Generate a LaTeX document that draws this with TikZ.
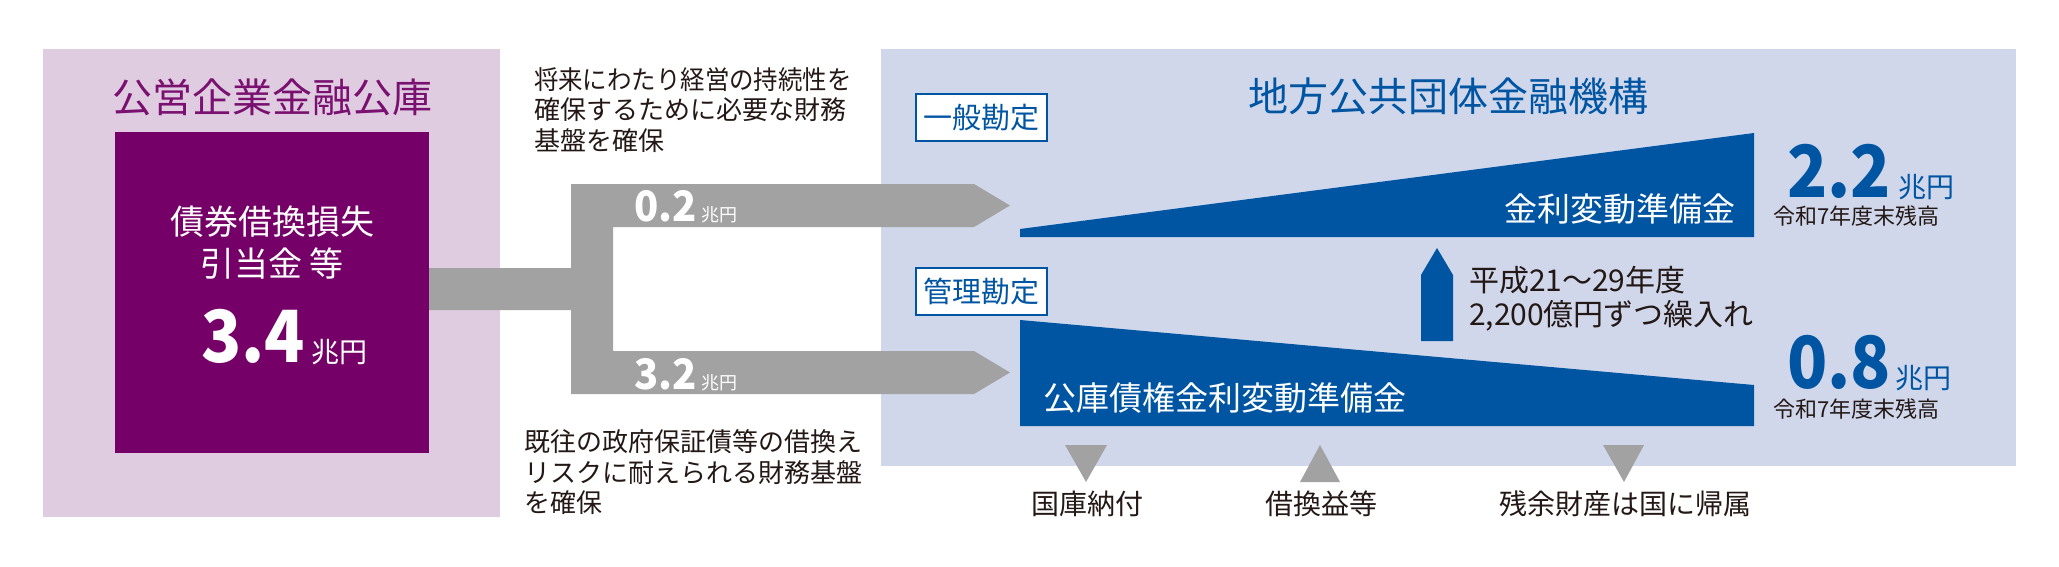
\documentclass[tikz,border=0pt]{standalone}
\usepackage{fontspec}
\setmainfont{Noto Sans CJK JP}
\definecolor{palepurple}{HTML}{DFCCE0}
\definecolor{darkpurple}{HTML}{750068}
\definecolor{titlepurple}{HTML}{7A1070}
\definecolor{flowgray}{HTML}{A2A2A2}
\definecolor{paleblue}{HTML}{D0D7EB}
\definecolor{deepblue}{HTML}{0055A3}
\definecolor{textblack}{HTML}{231815}
\newcommand{\bignum}[1]{\scalebox{0.92}[1]{\fontsize{72}{72}\selectfont\bfseries #1}}
\newcommand{\midnum}[1]{\scalebox{0.95}[1]{\fontsize{42}{42}\selectfont\bfseries #1}}
\begin{document}
\begin{tikzpicture}[x=1pt,y=-1pt]
\tikzset{
  txt/.style={inner sep=0pt,outer sep=0pt,text=textblack},
  fs/.style={font=\fontsize{#1}{#1}\selectfont},
  labelbox/.style={draw=deepblue,line width=1.6pt,fill=white,text=deepblue,
    minimum width=131pt,minimum height=47pt,inner sep=0pt,fs=29},
  tri/.style={fill=flowgray},
}
\useasboundingbox (0,0) rectangle (2059,567);
% backgrounds
\fill[palepurple] (43,49) rectangle (500,517);
\fill[darkpurple] (115,132) rectangle (429,453);
\fill[paleblue] (881,49) rectangle (2016,466);
% gray flow arrows
\fill[flowgray] (429,268) -- (571,268) -- (571,184) -- (974,184) -- (1010,205.5)
  -- (974,227) -- (613,227) -- (613,351) -- (974,351) -- (1010,372.5)
  -- (974,394) -- (571,394) -- (571,310) -- (429,310) -- cycle;
% blue wedges
\fill[deepblue] (1020,229) -- (1754,133) -- (1754,237) -- (1020,237) -- cycle;
\fill[deepblue] (1020,320) -- (1754,385) -- (1754,426) -- (1020,426) -- cycle;
% up arrow
\fill[deepblue] (1421,341) -- (1421,275) -- (1437,248) -- (1453,275) -- (1453,341) -- cycle;
% bottom triangles
\fill[tri] (1065,445) -- (1107,445) -- (1086,482) -- cycle;
\fill[tri] (1300,482) -- (1340,482) -- (1320,445) -- cycle;
\fill[tri] (1603,445) -- (1644,445) -- (1624,482) -- cycle;

% left titles
\node[txt,fs=40,text=titlepurple] (ttlL) at (272,97) {公営企業金融公庫};
\node[txt,fs=34,text=white] (saiken) at (272,222) {債券借換損失};
\node[txt,fs=34,text=white] (hikiate) at (272,264) {引当金 等};
\node[txt,anchor=base west,text=white] (amt34) at (201,362)
  {\bignum{3.4}\hspace{7pt}{\fontsize{28}{28}\selectfont 兆円}};

% right title
\node[txt,fs=40,text=deepblue] (ttlR) at (1448,96) {地方公共団体金融機構};

% side texts
\node[txt,fs=26,anchor=west] (up1) at (534,80) {\scalebox{0.94}[1]{将来にわたり経営の持続性を}};
\node[txt,fs=26,anchor=west] (up2) at (534,110) {確保するために必要な財務};
\node[txt,fs=26,anchor=west] (up3) at (534,141) {基盤を確保};
\node[txt,fs=26,anchor=west] (lo1) at (524,442) {既往の政府保証債等の借換え};
\node[txt,fs=26,anchor=west] (lo2) at (524,473) {リスクに耐えられる財務基盤};
\node[txt,fs=26,anchor=west] (lo3) at (524,503) {を確保};

% amounts on arrows
\node[txt,anchor=base west,text=white] (a02) at (634,221)
  {\midnum{0.2}\hspace{5pt}{\fontsize{18}{18}\selectfont 兆円}};
\node[txt,anchor=base west,text=white] (a32) at (634,389)
  {\midnum{3.2}\hspace{5pt}{\fontsize{18}{18}\selectfont 兆円}};

% account labels
\node[labelbox] (ippan) at (981.5,117.5) {一般勘定};
\node[labelbox] (kanri) at (981.5,291.5) {管理勘定};

% wedge labels
\node[txt,fs=33,text=white,anchor=west] (kinri) at (1504,209) {金利変動準備金};
\node[txt,fs=33,text=white,anchor=west] (koko) at (1043,398) {公庫債権金利変動準備金};

% transfer text
\node[txt,fs=30,anchor=west] (tr1) at (1469,280) {平成21～29年度};
\node[txt,fs=30,anchor=west] (tr2) at (1469,316) {2,200億円ずつ繰入れ};

% balances
\node[txt,anchor=base west,text=deepblue] (b22) at (1787,197)
  {\bignum{2.2}\hspace{8pt}{\fontsize{28}{28}\selectfont 兆円}};
\node[txt,fs=22,anchor=west] (r1) at (1773,216) {令和7年度末残高};
\node[txt,anchor=base west,text=deepblue] (b08) at (1787,388)
  {\bignum{0.8}\hspace{5pt}{\fontsize{28}{28}\selectfont 兆円}};
\node[txt,fs=22,anchor=west] (r2) at (1773,409) {令和7年度末残高};

% bottom labels
\node[txt,fs=28] (nofu) at (1087,504) {国庫納付};
\node[txt,fs=28] (karikae) at (1321,504) {借換益等};
\node[txt,fs=28] (zanyo) at (1625,504) {残余財産は国に帰属};
\end{tikzpicture}
\end{document}
